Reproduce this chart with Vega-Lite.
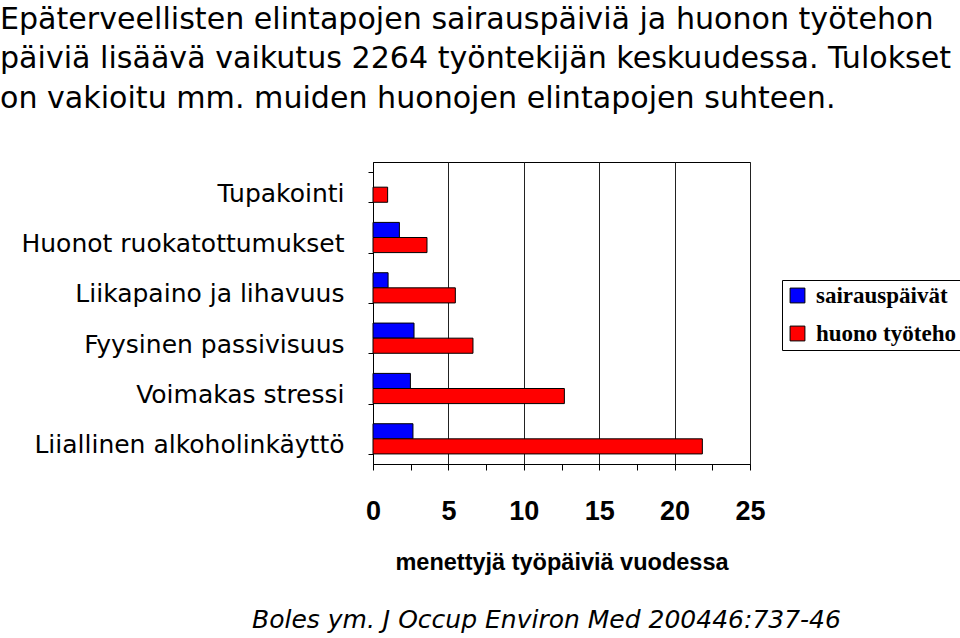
{
  "$schema": "https://vega.github.io/schema/vega-lite/v6.json",
  "width": 377,
  "height": 302,
  "autosize": {"type": "none"},
  "padding": {"left": 373, "top": 162, "right": 210, "bottom": 174},
  "background": "white",
  "title": {
    "text": [
      "Epäterveellisten elintapojen sairauspäiviä ja huonon työtehon",
      "päiviä lisäävä vaikutus 2264 työntekijän keskuudessa. Tulokset",
      "on vakioitu mm. muiden huonojen elintapojen suhteen."
    ],
    "anchor": "start",
    "frame": "group",
    "dx": -373,
    "offset": 36,
    "font": "DejaVu Sans",
    "fontSize": 30.1,
    "fontWeight": "normal",
    "lineHeight": 39.5,
    "color": "black"
  },
  "config": {
    "view": {"stroke": "black", "strokeWidth": 1}
  },
  "data": {
    "values": [
      {"cat": "Tupakointi", "series": "huono työteho", "value": 0.97},
      {"cat": "Huonot ruokatottumukset", "series": "sairauspäivät", "value": 1.75},
      {"cat": "Huonot ruokatottumukset", "series": "huono työteho", "value": 3.58},
      {"cat": "Liikapaino ja lihavuus", "series": "sairauspäivät", "value": 1.0},
      {"cat": "Liikapaino ja lihavuus", "series": "huono työteho", "value": 5.46},
      {"cat": "Fyysinen passivisuus", "series": "sairauspäivät", "value": 2.72},
      {"cat": "Fyysinen passivisuus", "series": "huono työteho", "value": 6.63},
      {"cat": "Voimakas stressi", "series": "sairauspäivät", "value": 2.48},
      {"cat": "Voimakas stressi", "series": "huono työteho", "value": 12.69},
      {"cat": "Liiallinen alkoholinkäyttö", "series": "sairauspäivät", "value": 2.65},
      {"cat": "Liiallinen alkoholinkäyttö", "series": "huono työteho", "value": 21.84}
    ]
  },
  "resolve": {"axis": {"x": "independent"}},
  "layer": [
    {
      "mark": {"type": "bar", "stroke": "black", "strokeWidth": 1},
      "encoding": {
        "y": {
          "field": "cat",
          "type": "nominal",
          "sort": ["Tupakointi", "Huonot ruokatottumukset", "Liikapaino ja lihavuus", "Fyysinen passivisuus", "Voimakas stressi", "Liiallinen alkoholinkäyttö"],
          "scale": {"paddingInner": 0.4, "paddingOuter": 0.2},
          "axis": {
            "title": null,
            "labelFont": "DejaVu Sans",
            "labelFontSize": 25,
            "labelLimit": 400,
            "labelColor": "black",
            "labelPadding": 24,
            "labelOffset": 6,
            "ticks": true,
            "tickSize": 5,
            "tickBand": "extent",
            "tickColor": "black",
            "domainColor": "black",
            "grid": false
          }
        },
        "yOffset": {
          "field": "series",
          "type": "nominal",
          "sort": ["sairauspäivät", "huono työteho"],
          "scale": {"domain": ["sairauspäivät", "huono työteho"]}
        },
        "x": {
          "field": "value",
          "type": "quantitative",
          "scale": {"domain": [0, 25], "nice": false},
          "axis": {
            "orient": "bottom",
            "values": [0, 5, 10, 15, 20, 25],
            "grid": true,
            "gridColor": "#222222",
            "gridOpacity": 1,
            "ticks": false,
            "domainColor": "black",
            "labelFont": "Liberation Sans",
            "labelFontWeight": "bold",
            "labelFontSize": 27,
            "labelColor": "black",
            "labelPadding": 34,
            "labelFlush": false,
            "title": "menettyjä työpäiviä vuodessa",
            "titleFont": "Liberation Sans",
            "titleFontWeight": "bold",
            "titleFontSize": 23.5,
            "titleColor": "black",
            "titlePadding": 26
          }
        },
        "color": {
          "field": "series",
          "type": "nominal",
          "scale": {"domain": ["sairauspäivät", "huono työteho"], "range": ["#0000FF", "#FF0000"]},
          "legend": {
            "title": null,
            "orient": "none",
            "legendX": 409,
            "legendY": 118,
            "strokeColor": "black",
            "fillColor": "white",
            "padding": 4,
            "symbolType": "square",
            "symbolSize": 220,
            "symbolStrokeColor": "black",
            "symbolStrokeWidth": 1,
            "symbolOpacity": 1,
            "labelFont": "Liberation Serif",
            "labelFontWeight": "bold",
            "labelFontSize": 23,
            "labelColor": "black",
            "labelOffset": 7,
            "rowPadding": 14
          }
        }
      }
    },
    {
      "mark": {"type": "point", "opacity": 0},
      "encoding": {
        "x": {
          "field": "value",
          "type": "quantitative",
          "axis": {
            "orient": "bottom",
            "values": [0, 2.5, 5, 7.5, 10, 12.5, 15, 17.5, 20, 22.5, 25],
            "grid": false,
            "labels": false,
            "ticks": true,
            "tickSize": 6,
            "tickColor": "black",
            "domain": false,
            "title": "Boles ym. J Occup Environ Med 200446:737-46",
            "titleFont": "DejaVu Sans",
            "titleFontStyle": "italic",
            "titleFontWeight": "normal",
            "titleFontSize": 25,
            "titleColor": "black",
            "titleX": 173,
            "titleY": 143,
            "titleAlign": "center"
          }
        }
      }
    }
  ]
}
